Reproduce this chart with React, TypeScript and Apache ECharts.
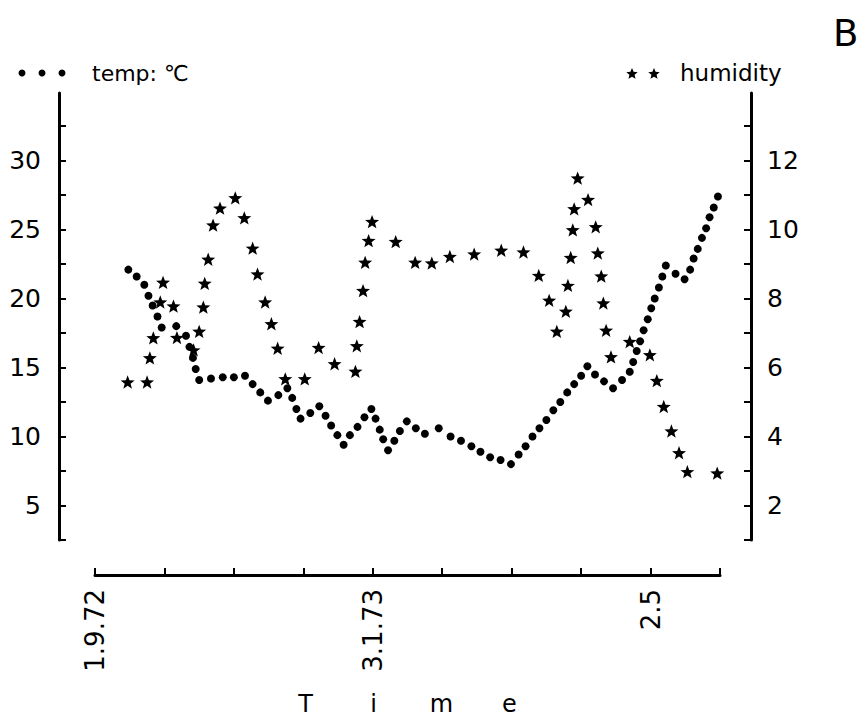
import React, { useEffect, useRef } from "react";
import * as echarts from "echarts";

// x axis: months after 1.9.72
const monthTicks = [0, 1, 2, 3, 4, 5, 6, 7, 8, 9];
const monthLabelValues = [0, 4, 8];
const monthLabelTexts = ["1.9.72", "3.1.73", "2.5"];

const tempTicks = [2.5, 5, 7.5, 10, 12.5, 15, 17.5, 20, 22.5, 25, 27.5, 30, 32.5];
const tempLabels = [5, 10, 15, 20, 25, 30];
const humTicks = [1, 2, 3, 4, 5, 6, 7, 8, 9, 10, 11, 12, 13];
const humLabels = [2, 4, 6, 8, 10, 12];

const tempTime = [
  0.48, 0.6, 0.71, 0.77, 0.83, 0.9, 0.96, 1.17, 1.31, 1.36,
  1.41, 1.45, 1.5, 1.67, 1.84, 2.0, 2.16, 2.27, 2.38, 2.49,
  2.64, 2.77, 2.84, 2.9, 2.96, 3.1, 3.23, 3.32, 3.4, 3.49,
  3.58, 3.67, 3.78, 3.88, 3.98, 4.04, 4.1, 4.15, 4.22, 4.31,
  4.39, 4.49, 4.62, 4.75, 4.95, 5.12, 5.27, 5.42, 5.55, 5.69,
  5.84, 5.99, 6.1, 6.2, 6.3, 6.4, 6.5, 6.6, 6.7, 6.8,
  6.9, 7.0, 7.09, 7.2, 7.33, 7.46, 7.59, 7.7, 7.75, 7.8,
  7.85, 7.9, 7.96, 8.01, 8.06, 8.12, 8.17, 8.22, 8.36, 8.49,
  8.57, 8.62, 8.68, 8.74, 8.8, 8.85, 8.91, 8.97,
];
const tempValue = [
  22.1, 21.6, 21.0, 20.2, 19.5, 18.7, 17.9, 18.0, 17.3, 16.5,
  15.7, 14.9, 14.1, 14.2, 14.3, 14.3, 14.4, 13.8, 13.2, 12.6,
  13.0, 13.5, 12.8, 12.0, 11.3, 11.7, 12.2, 11.5, 10.8, 10.1,
  9.4, 10.1, 10.7, 11.4, 12.0, 11.3, 10.5, 9.8, 9.0, 9.7,
  10.4, 11.1, 10.6, 10.2, 10.6, 10.0, 9.7, 9.3, 8.9, 8.5,
  8.3, 8.0, 8.7, 9.3, 10.0, 10.6, 11.2, 11.9, 12.5, 13.2,
  13.8, 14.4, 15.1, 14.5, 14.0, 13.5, 14.1, 14.7, 15.4, 16.2,
  16.9, 17.7, 18.5, 19.3, 20.0, 20.8, 21.6, 22.4, 21.8, 21.4,
  22.1, 22.9, 23.6, 24.4, 25.1, 25.9, 26.6, 27.4,
];

const humTime = [
  0.47, 0.75, 0.79, 0.84, 0.94, 0.98, 1.13, 1.18, 1.42, 1.5,
  1.56, 1.58, 1.63, 1.7, 1.8, 2.02, 2.15, 2.27, 2.34, 2.45,
  2.54, 2.63, 2.74, 3.02, 3.22, 3.45, 3.75, 3.77, 3.81, 3.86,
  3.89, 3.94, 3.99, 4.33, 4.61, 4.85, 5.11, 5.46, 5.85, 6.17,
  6.39, 6.54, 6.65, 6.78, 6.81, 6.85, 6.88, 6.9, 6.95, 7.1,
  7.21, 7.24, 7.29, 7.32, 7.36, 7.43, 7.7, 7.99, 8.09, 8.19,
  8.3, 8.41, 8.53, 8.96,
];
const humValue = [
  5.58, 5.58, 6.28, 6.86, 7.9, 8.47, 7.78, 6.87, 6.51, 7.05,
  7.75, 8.44, 9.14, 10.13, 10.62, 10.92, 10.34, 9.46, 8.71, 7.9,
  7.27, 6.56, 5.67, 5.67, 6.58, 6.11, 5.89, 6.63, 7.33, 8.23,
  9.05, 9.68, 10.23, 9.65, 9.05, 9.03, 9.22, 9.29, 9.4, 9.35,
  8.67, 7.95, 7.05, 7.63, 8.38, 9.19, 9.99, 10.6, 11.49, 10.87,
  10.08, 9.32, 8.65, 7.87, 7.08, 6.31, 6.75, 6.37, 5.62, 4.87,
  4.16, 3.53, 2.98, 2.94,
];

const FONT = "'DejaVu Sans', sans-serif";
const STAR =
  "path://M50 0 L62.5 32.8 L97.55 34.55 L70 56.5 L79.4 90.45 L50 71 L20.6 90.45 L30 56.5 L2.45 34.55 L37.5 32.8 Z";

function starPoints(cx: number, cy: number, R: number): number[][] {
  const pts: number[][] = [];
  for (let i = 0; i < 10; i++) {
    const r = i % 2 === 0 ? R : R * 0.45;
    const a = -Math.PI / 2 + (i * Math.PI) / 5;
    pts.push([cx + r * Math.cos(a), cy + r * Math.sin(a)]);
  }
  return pts;
}

export default function App() {
  const ref = useRef<HTMLDivElement>(null);
  useEffect(() => {
    if (!ref.current) return;
    const chart = echarts.init(ref.current, undefined, { renderer: "svg" });
    const axisLine = { show: true, onZero: false, lineStyle: { color: "#000", width: 3 } };
    const tick = (vals: number[]) => ({
      show: true,
      inside: true,
      length: 7,
      lineStyle: { color: "#000", width: 2 },
      customValues: vals,
    });
    const labelStyle = { color: "#000", fontSize: 25, fontFamily: FONT };
    chart.setOption({
      animation: false,
      backgroundColor: "#fff",
      grid: { left: 95, right: 145, top: 93, height: 447 },
      xAxis: {
        type: "value",
        min: 0,
        max: 9,
        position: "bottom",
        offset: 35,
        axisLine,
        axisTick: tick(monthTicks),
        splitLine: { show: false },
        axisLabel: {
          ...labelStyle,
          fontSize: 26,
          rotate: 90,
          margin: 14,
          customValues: monthLabelValues,
          formatter: (v: number) => {
            const i = monthLabelValues.indexOf(v);
            return i >= 0 ? monthLabelTexts[i] : "";
          },
        },
        name: "{l|T}{l|i}{l|m}{l|e}",
        nameLocation: "middle",
        nameGap: 117,
        nameTextStyle: {
          rich: { l: { width: 68, align: "center", fontSize: 24, fontFamily: FONT, color: "#000" } },
        },
      },
      yAxis: [
        {
          type: "value",
          position: "left",
          offset: 36,
          min: 2.5,
          max: 34.9,
          axisLine,
          axisTick: tick(tempTicks),
          splitLine: { show: false },
          axisLabel: { ...labelStyle, margin: 18, customValues: tempLabels },
        },
        {
          type: "value",
          position: "right",
          offset: 31,
          min: 1,
          max: 13.96,
          axisLine,
          axisTick: tick(humTicks),
          splitLine: { show: false },
          axisLabel: { ...labelStyle, margin: 16, customValues: humLabels },
        },
      ],
      series: [
        {
          type: "scatter",
          name: "temp",
          yAxisIndex: 0,
          symbol: "circle",
          symbolSize: 8,
          itemStyle: { color: "#000", opacity: 1 },
          data: tempTime.map((t, i) => [t, tempValue[i]]),
        },
        {
          type: "scatter",
          name: "humidity",
          yAxisIndex: 1,
          symbol: STAR,
          symbolSize: 14,
          symbolKeepAspect: true,
          itemStyle: { color: "#000", opacity: 1 },
          data: humTime.map((t, i) => [t, humValue[i]]),
        },
      ],
      graphic: [
        { type: "circle", shape: { cx: 22, cy: 73, r: 3.5 }, style: { fill: "#000" } },
        { type: "circle", shape: { cx: 42, cy: 73, r: 3.5 }, style: { fill: "#000" } },
        { type: "circle", shape: { cx: 62, cy: 73, r: 3.5 }, style: { fill: "#000" } },
        {
          type: "text",
          x: 92,
          y: 73,
          style: { text: "temp: ℃", fontSize: 22, fontFamily: FONT, fill: "#000", verticalAlign: "middle" },
        },
        { type: "polygon", shape: { points: starPoints(632, 74, 6) }, style: { fill: "#000" } },
        { type: "polygon", shape: { points: starPoints(654, 74, 6) }, style: { fill: "#000" } },
        {
          type: "text",
          x: 680,
          y: 73,
          style: { text: "humidity", fontSize: 23, fontFamily: FONT, fill: "#000", verticalAlign: "middle" },
        },
        {
          type: "text",
          x: 833,
          y: 33,
          style: { text: "B", fontSize: 37, fontFamily: FONT, fill: "#000", verticalAlign: "middle" },
        },
      ],
    });
    return () => chart.dispose();
  }, []);
  return (
    <div
      ref={ref}
      style={{ position: "absolute", left: 0, top: 0, width: 865, height: 722, background: "#fff" }}
    />
  );
}
